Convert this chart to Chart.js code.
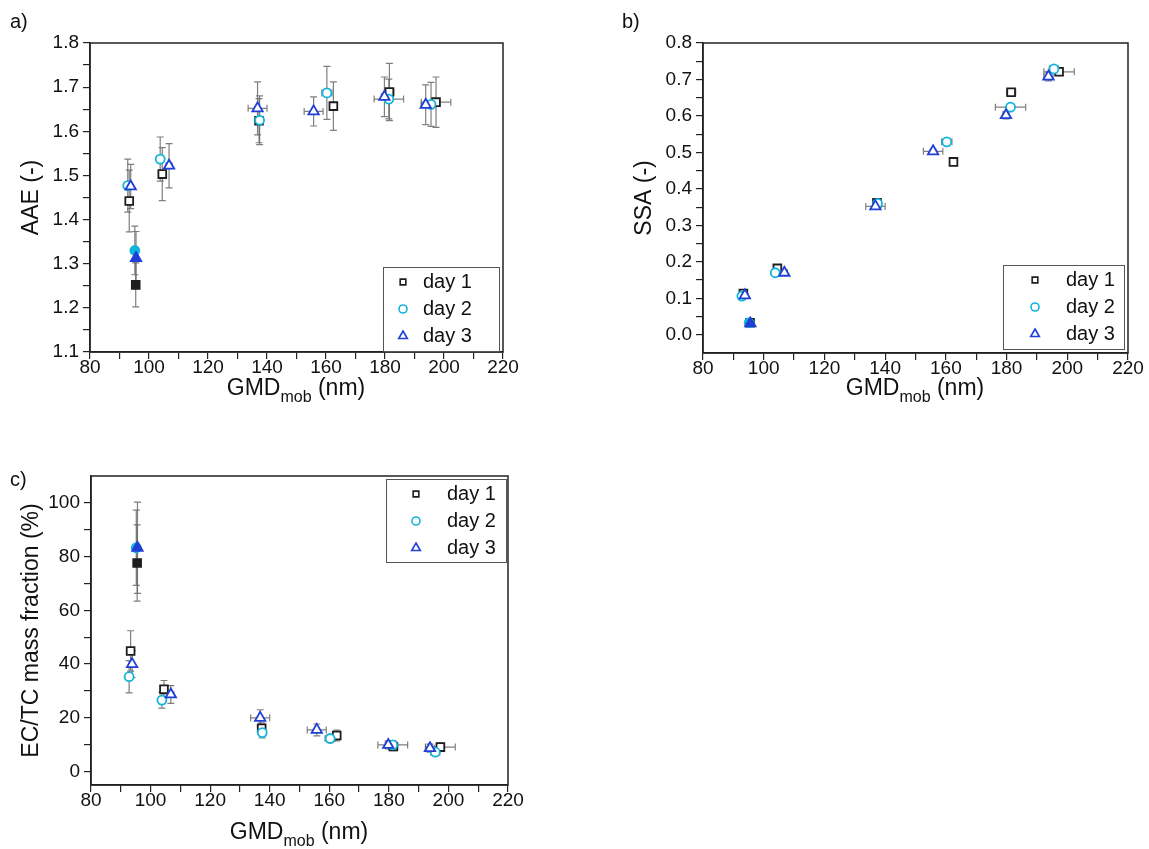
<!DOCTYPE html>
<html>
<head>
<meta charset="utf-8">
<script src="https://cdn.jsdelivr.net/npm/chart.js@4.4.1/dist/chart.umd.min.js"></script>
<style>
  body { margin: 0; background: #fff; width: 1149px; height: 849px; position: relative; overflow: hidden;
         font-family: "Liberation Sans", Arial, sans-serif; color: #111; }
  canvas { position: absolute; }
  .lbl { position: absolute; font-size: 20px; }
  .xt { position: absolute; font-size: 23px; text-align: center; width: 300px; white-space: nowrap; }
  .xt sub { font-size: 16px; vertical-align: -7px; line-height: 0; }
</style>
</head>
<body>
<canvas id="chartA" width="520" height="430" style="left:0;top:0"></canvas>
<canvas id="chartB" width="549" height="430" style="left:600px;top:0"></canvas>
<canvas id="chartC" width="530" height="409" style="left:0;top:440px"></canvas>

<div class="lbl" style="left:10px;top:10px">a)</div>
<div class="lbl" style="left:622px;top:10px">b)</div>
<div class="lbl" style="left:10px;top:468px">c)</div>
<div class="xt" style="left:146px;top:374px">GMD<sub>mob</sub> (nm)</div>
<div class="xt" style="left:765px;top:374px">GMD<sub>mob</sub> (nm)</div>
<div class="xt" style="left:149px;top:818px">GMD<sub>mob</sub> (nm)</div>

<script>
var days = ['day 1', 'day 2', 'day 3'];
var colors = ['#1e1e1e', '#12b4dc', '#1f3fd6'];
var shapes = ['rect', 'circle', 'triangle'];
var radii = [5.5, 4.5, 6];
// the ~95 nm points are drawn filled
var filled = [false, true, false, false, false, false, false];

// tick positions (labels only on every second one)
var xTicks = [80, 90, 100, 110, 120, 130, 140, 150, 160, 170, 180, 190, 200, 210, 220];
var aaeTicks = [1.1, 1.15, 1.2, 1.25, 1.3, 1.35, 1.4, 1.45, 1.5, 1.55, 1.6, 1.65, 1.7, 1.75, 1.8];
var ssaTicks = [0, 0.05, 0.1, 0.15, 0.2, 0.25, 0.3, 0.35, 0.4, 0.45, 0.5, 0.55, 0.6, 0.65, 0.7, 0.75, 0.8];
var ectcTicks = [0, 10, 20, 30, 40, 50, 60, 70, 80, 90, 100];

// mobility diameter (same points in every panel)
var gmd1 = [93.3, 95.5, 104.5, 137.3, 162.5, 181.5, 197.3];
var gmd2 = [92.8, 95.2, 103.8, 137.5, 160.3, 181.3, 195.6];
var gmd3 = [93.8, 95.6, 106.8, 136.8, 155.8, 179.8, 193.8];
var gmdErr1 = [0.5, 0.5, 1, 1, 1, 1.5, 5];
var gmdErr2 = [0.5, 0.5, 1, 1, 1.7, 5, 1.5];
var gmdErr3 = [0.5, 0.5, 1, 3.2, 3.2, 1, 1.5];

var aae1 = [1.442, 1.252, 1.503, 1.624, 1.657, 1.689, 1.666];
var aae2 = [1.477, 1.330, 1.537, 1.625, 1.687, 1.673, 1.661];
var aae3 = [1.475, 1.313, 1.522, 1.652, 1.645, 1.678, 1.660];
var aaeErr1 = [0.07, 0.05, 0.06, 0.05, 0.055, 0.065, 0.057];
var aaeErr2 = [0.06, 0.055, 0.05, 0.055, 0.06, 0.045, 0.05];
var aaeErr3 = [0.05, 0.06, 0.05, 0.06, 0.033, 0.045, 0.045];

var ssa1 = [0.113, 0.033, 0.182, 0.362, 0.474, 0.665, 0.721];
var ssa2 = [0.106, 0.033, 0.170, 0.360, 0.529, 0.624, 0.729];
var ssa3 = [0.108, 0.031, 0.170, 0.352, 0.503, 0.602, 0.708];
var ssaErr1 = [0.005, 0.004, 0.006, 0.006, 0.005, 0.01, 0.006];
var ssaErr2 = [0.005, 0.004, 0.005, 0.006, 0.006, 0.008, 0.006];
var ssaErr3 = [0.005, 0.004, 0.005, 0.006, 0.006, 0.01, 0.012];

var ectc1 = [44.9, 77.6, 30.6, 16.1, 13.4, 9.3, 9.1];
var ectc2 = [35.3, 83.3, 26.6, 14.5, 12.3, 9.9, 7.2];
var ectc3 = [40.0, 83.3, 28.7, 20.0, 15.5, 9.9, 8.7];
var ectcErr1 = [7.5, 14.2, 3.3, 2, 2, 1.5, 1.5];
var ectcErr2 = [6, 14, 3, 2, 1.5, 1.5, 1];
var ectcErr3 = [5, 17, 3.3, 3, 2.2, 1.5, 1.5];

var FONT = '"Liberation Sans", Arial, sans-serif';
var AXIS = '#222';

function drawMarker(ctx, shape, x, y, r) {
  ctx.beginPath();
  if (shape === 'rect') {
    var s = r * Math.SQRT1_2;
    ctx.rect(x - s, y - s, 2 * s, 2 * s);
  } else if (shape === 'circle') {
    ctx.arc(x, y, r, 0, Math.PI * 2);
  } else {
    ctx.moveTo(x, y - r);
    ctx.lineTo(x + r * 0.866, y + r * 0.5);
    ctx.lineTo(x - r * 0.866, y + r * 0.5);
    ctx.closePath();
  }
}

var errorBars = {
  id: 'errorBars',
  beforeDatasetsDraw: function (chart) {
    var ctx = chart.ctx, xs = chart.scales.x, ys = chart.scales.y;
    ctx.save();
    ctx.strokeStyle = 'rgba(105,105,105,0.85)';
    ctx.lineWidth = 1.2;
    var cap = 3.5;
    chart.data.datasets.forEach(function (ds) {
      ds.data.forEach(function (p) {
        var px = xs.getPixelForValue(p.x), py = ys.getPixelForValue(p.y);
        ctx.beginPath();
        if (p.ye) {
          var t = ys.getPixelForValue(p.y + p.ye), b = ys.getPixelForValue(p.y - p.ye);
          ctx.moveTo(px, t); ctx.lineTo(px, b);
          ctx.moveTo(px - cap, t); ctx.lineTo(px + cap, t);
          ctx.moveTo(px - cap, b); ctx.lineTo(px + cap, b);
        }
        if (p.xe) {
          var l = xs.getPixelForValue(p.x - p.xe), r = xs.getPixelForValue(p.x + p.xe);
          ctx.moveTo(l, py); ctx.lineTo(r, py);
          ctx.moveTo(l, py - cap); ctx.lineTo(l, py + cap);
          ctx.moveTo(r, py - cap); ctx.lineTo(r, py + cap);
        }
        ctx.stroke();
      });
    });
    ctx.restore();
  }
};

var frameLegend = {
  id: 'frameLegend',
  afterDraw: function (chart, args, o) {
    var ctx = chart.ctx, a = chart.chartArea;
    ctx.save();
    ctx.strokeStyle = AXIS;
    ctx.lineWidth = 1.5;
    ctx.strokeRect(a.left, a.top, a.right - a.left, a.bottom - a.top);

    var bx = a.right - o.right - o.w;
    var by = o.corner === 'tr' ? a.top + o.inset : a.bottom - o.inset - o.h;
    ctx.fillStyle = '#fff';
    ctx.fillRect(bx, by, o.w, o.h);
    ctx.strokeStyle = '#555';
    ctx.lineWidth = 1;
    ctx.strokeRect(bx + 0.5, by + 0.5, o.w, o.h);
    ctx.font = '20px ' + FONT;
    ctx.textBaseline = 'middle';
    chart.data.datasets.forEach(function (ds, i) {
      var cy = by + 15 + i * 27;
      ctx.strokeStyle = colors[i];
      ctx.lineWidth = 1.6;
      drawMarker(ctx, shapes[i], bx + o.mx, cy, i === 2 ? 5 : 4);
      ctx.stroke();
      ctx.fillStyle = '#111';
      ctx.fillText(ds.label, bx + o.tx, cy);
    });
    ctx.restore();
  }
};

function makeSets(ys, yerrs) {
  var xs = [gmd1, gmd2, gmd3];
  var xerrs = [gmdErr1, gmdErr2, gmdErr3];
  return days.map(function (d, i) {
    return {
      label: d,
      order: 2 - i,
      data: xs[i].map(function (x, j) {
        return { x: x, y: ys[i][j], xe: xerrs[i][j], ye: yerrs[i][j] };
      }),
      pointStyle: shapes[i],
      pointRadius: radii[i],
      pointBorderWidth: 1.8,
      borderColor: colors[i],
      pointBorderColor: colors[i],
      pointBackgroundColor: filled.map(function (f) { return f ? colors[i] : '#fff'; }),
      showLine: false
    };
  });
}

function makeChart(id, sets, cfg) {
  return new Chart(document.getElementById(id), {
    type: 'scatter',
    data: { datasets: sets },
    plugins: [errorBars, frameLegend],
    options: {
      responsive: false,
      animation: false,
      devicePixelRatio: 1,
      layout: { padding: { left: 0, top: cfg.top, right: cfg.right, bottom: 0 } },
      plugins: { legend: { display: false }, tooltip: { enabled: false }, frameLegend: cfg.legend },
      scales: {
        x: {
          type: 'linear', min: 80, max: 220,
          afterFit: function (s) { s.height = cfg.xh; },
          afterBuildTicks: function (s) { s.ticks = xTicks.map(function (v) { return { value: v }; }); },
          grid: { drawOnChartArea: false, tickLength: 7, color: AXIS, lineWidth: 1.2 },
          border: { color: AXIS, width: 1.5 },
          ticks: {
            autoSkip: false, maxRotation: 0, padding: -1, color: '#111',
            font: { family: FONT, size: 19, lineHeight: 1 },
            callback: function (v) { return v % 20 === 0 ? String(v) : ''; }
          }
        },
        y: {
          type: 'linear', min: cfg.ymin, max: cfg.ymax,
          afterFit: function (s) { s.width = cfg.yw; },
          afterBuildTicks: function (s) { s.ticks = cfg.ticks.map(function (v) { return { value: v }; }); },
          grid: { drawOnChartArea: false, tickLength: 7, color: AXIS, lineWidth: 1.2 },
          border: { color: AXIS, width: 1.5 },
          title: { display: true, text: cfg.title, color: '#111', font: { family: FONT, size: 23 },
                   padding: { top: cfg.tpad, bottom: 0 } },
          ticks: {
            autoSkip: false, padding: 4, color: '#111',
            font: { family: FONT, size: 19 },
            callback: cfg.fmt
          }
        }
      }
    }
  });
}

function fmtTenth(v) {
  var k = Math.round(v * 100);
  return (k >= 0 && k % 10 === 0) ? (k / 100).toFixed(1) : '';
}

makeChart('chartA', makeSets([aae1, aae2, aae3], [aaeErr1, aaeErr2, aaeErr3]), {
  top: 43, right: 17, xh: 78, yw: 90, tpad: 18,
  legend: { corner: 'br', w: 116, h: 84, right: 4, inset: 1, mx: 20, tx: 40 },
  ymin: 1.1, ymax: 1.8, ticks: aaeTicks, title: 'AAE (-)', fmt: fmtTenth
});

makeChart('chartB', makeSets([ssa1, ssa2, ssa3], [ssaErr1, ssaErr2, ssaErr3]), {
  top: 43, right: 21, xh: 77, yw: 103, tpad: 31,
  legend: { corner: 'br', w: 121, h: 84, right: 4, inset: 4, mx: 32, tx: 63 },
  ymin: -0.05, ymax: 0.8, ticks: ssaTicks, title: 'SSA (-)', fmt: fmtTenth
});

makeChart('chartC', makeSets([ectc1, ectc2, ectc3], [ectcErr1, ectcErr2, ectcErr3]), {
  top: 36, right: 22, xh: 64, yw: 91, tpad: 18,
  legend: { corner: 'tr', w: 120, h: 83, right: 2, inset: 3, mx: 30, tx: 61 },
  ymin: -5, ymax: 110, ticks: ectcTicks, title: 'EC/TC mass fraction (%)',
  fmt: function (v) { return (v % 20 === 0) ? String(v) : ''; }
});
</script>
</body>
</html>
